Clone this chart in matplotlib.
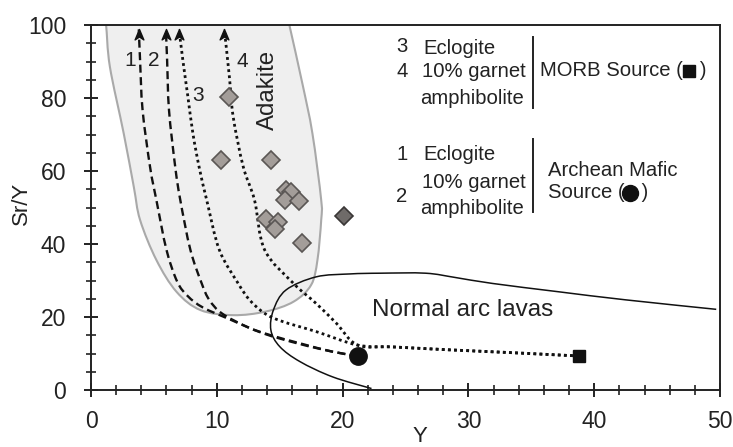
import matplotlib
matplotlib.use("Agg")
import matplotlib.pyplot as plt
import numpy as np
from matplotlib.path import Path
from matplotlib.patches import PathPatch
from matplotlib.lines import Line2D
from matplotlib.ticker import MultipleLocator

plt.rcParams['font.family'] = ['Liberation Sans', 'DejaVu Sans']

# ---------------- data ----------------
# Adakite field outline (Y, Sr/Y)
field_x = [1.0, 1.2, 1.5, 2.6, 3.4, 3.9, 5.2, 6.8, 8.7, 11.3, 13.9, 16.1, 17.5, 18.0, 18.3, 18.3, 17.6, 16.8, 15.8, 15.5]
field_y = [104, 100, 88.6, 70.3, 55.7, 46.6, 35.6, 26.9, 21.9, 20.5, 21.5, 24.2, 28.8, 35.6, 46.6, 52.0, 70.3, 84.0, 99.5, 104]

# Normal arc lavas boundary
arc_x = [22.3, 19.2, 16.6, 15.0, 14.3, 14.5, 15.5, 17.9, 20.6, 23.0, 26.6, 29.0, 31.9, 37.2, 42.5, 49.7]
arc_y = [0.4, 3.6, 7.8, 11.9, 16.4, 21.9, 27.4, 31.0, 31.8, 32.0, 32.0, 30.8, 29.2, 26.9, 24.7, 22.1]

# Sample data (diamonds)
samples_y = [11.0, 10.3, 14.3, 15.5, 15.9, 15.4, 16.5, 13.9, 14.9, 14.6, 16.8]
samples_sry = [80.2, 63.0, 63.0, 54.8, 54.3, 52.1, 51.9, 46.8, 46.1, 44.0, 40.2]
dark_y = [20.1]
dark_sry = [47.7]

# Sources
archean_src = (21.2, 9.3)
morb_src = (38.8, 9.3)

# Melting curves
c1_x = [21.2, 19.2, 16.6, 13.7, 11.0, 8.9, 7.7, 6.85, 6.0, 5.2, 4.7, 4.1, 3.9, 3.8]
c1_y = [9.3, 10.5, 12.6, 15.5, 19.4, 22.6, 25.7, 29.7, 38.4, 52.0, 61.0, 76.7, 90.4, 98.8]
c2_x = [21.2, 19.2, 16.6, 14.2, 12.4, 10.4, 9.4, 8.8, 7.9, 7.1, 6.7, 6.2, 6.05, 5.95]
c2_y = [9.3, 10.5, 12.8, 15.1, 17.3, 21.0, 24.7, 29.2, 38.4, 52.0, 61.0, 76.7, 90.4, 98.8]
c3_x = [38.3, 33.0, 28.5, 24.0, 21.2, 17.9, 15.2, 13.8, 12.6, 11.7, 10.2, 9.2, 8.6, 8.1, 7.7, 7.3, 7.0]
c3_y = [9.4, 10.3, 11.0, 11.8, 12.3, 16.0, 18.8, 21.0, 24.7, 29.2, 38.4, 52.0, 61.0, 70.3, 80.4, 90.4, 98.8]
c4_x = [38.3, 33.0, 28.5, 24.0, 21.2, 19.5, 17.9, 16.1, 13.8, 13.0, 12.1, 11.3, 11.0, 10.6]
c4_y = [9.4, 10.3, 11.0, 11.8, 12.3, 18.3, 23.7, 29.2, 38.4, 52.0, 61.2, 74.9, 85.8, 98.8]

curve_labels = ['1', '2', '3', '4']
label_pos_x = [3.1, 5.0, 8.5, 12.0]
label_pos_y = [90.4, 90.4, 80.8, 90.0]


def smooth_path(xs, ys, closed=False):
    """Catmull-Rom through the given points, drawn as cubic Bezier segments."""
    P = np.column_stack([xs, ys]).astype(float)
    n = len(P)
    verts = [P[0]]
    codes = [Path.MOVETO]
    segs = n if closed else n - 1
    for i in range(segs):
        p0 = P[(i - 1) % n] if (closed or i > 0) else P[i]
        p1 = P[i % n]
        p2 = P[(i + 1) % n]
        p3 = P[(i + 2) % n] if (closed or i + 2 < n) else P[(i + 1) % n]
        c1 = p1 + (p2 - p0) / 6.0
        c2 = p2 - (p3 - p1) / 6.0
        verts += [c1, c2, p2]
        codes += [Path.CURVE4] * 3
    if closed:
        verts.append(P[0])
        codes.append(Path.CLOSEPOLY)
    return Path(np.array(verts), codes)


# ---------------- figure ----------------
W, H = 733, 447
fig = plt.figure(figsize=(W / 100, H / 100), dpi=100)
ax = fig.add_axes([91 / W, 1 - 390 / H, (720 - 91) / W, (390 - 25) / H])

ax.add_patch(PathPatch(smooth_path(field_x, field_y, closed=True), facecolor='#efefef',
                       edgecolor='#a9a9a9', lw=1.5, zorder=1))
ax.add_patch(PathPatch(smooth_path(arc_x, arc_y), fill=False, edgecolor='#111111', lw=1.1, zorder=2))

dashed = (0, (3.4, 1.9))
dotted = (0, (1.0, 1.2))
for cx, cy, ds, lw in [(c1_x, c1_y, dashed, 1.7), (c2_x, c2_y, dashed, 1.7),
                       (c3_x, c3_y, dotted, 2.0), (c4_x, c4_y, dotted, 2.0)]:
    ax.add_patch(PathPatch(smooth_path(cx, cy), fill=False, edgecolor='#111111', lw=lw,
                           linestyle=ds, zorder=3))

arrow_marker = Path([(0, 0), (0.42, -1.0), (0, -0.72), (-0.42, -1.0), (0, 0)],
                    [Path.MOVETO, Path.LINETO, Path.LINETO, Path.LINETO, Path.CLOSEPOLY])
tips_x = [c1_x[-1], c2_x[-1], c3_x[-1], c4_x[-1]]
tips_y = [c1_y[-1], c2_y[-1], c3_y[-1], c4_y[-1]]
ax.plot(tips_x, tips_y, ls='none', marker=arrow_marker, ms=15, color='#111111', zorder=4, clip_on=False)

for t, lx, ly in zip(curve_labels, label_pos_x, label_pos_y):
    ax.text(lx, ly, t, fontsize=15, ha='center', va='center', color='#222222', zorder=5)

ax.plot(samples_y, samples_sry, ls='none', marker='D', ms=9.2, mfc='#a39d99', mec='#5a5654', mew=1.2, zorder=5)
ax.plot(dark_y, dark_sry, ls='none', marker='D', ms=9.2, mfc='#6f6b69', mec='#3a3736', mew=1.2, zorder=5)

ax.plot([archean_src[0]], [archean_src[1]], ls='none', marker='o', ms=12.5, color='#111111', zorder=6)
ax.plot([morb_src[0]], [morb_src[1]], ls='none', marker='s', ms=8.6, color='#111111', zorder=6)

ax.text(14.07, 82.2, 'Adakite', rotation=90, fontsize=17.3, ha='center', va='center', color='#222222', zorder=5)
ax.text(22.3, 22.0, 'Normal arc lavas', fontsize=17.5, ha='left', va='center', color='#222222', zorder=5)

ax.set_xlim(0, 50)
ax.set_ylim(0, 100)
ax.xaxis.set_major_locator(MultipleLocator(10))
ax.xaxis.set_minor_locator(MultipleLocator(2))
ax.yaxis.set_major_locator(MultipleLocator(20))
ax.yaxis.set_minor_locator(MultipleLocator(5))
ax.tick_params(which='both', direction='inout', top=False, right=False, colors='#222222', labelsize=16.5)
ax.tick_params(which='major', length=9.5, width=1.4)
ax.tick_params(which='minor', length=7.5, width=1.2)
ax.tick_params(axis='x', which='major', pad=10)
ax.tick_params(axis='y', which='major', pad=13)
for sp in ax.spines.values():
    sp.set_linewidth(1.4)
    sp.set_color('#222222')

# axis labels
fig.text(21 / W, 1 - 203 / H, 'Sr/Y', rotation=90, fontsize=16, ha='center', va='center', color='#222222')
fig.text(420 / W, 1 - 436 / H, 'Y', fontsize=16, ha='center', va='center', color='#222222')


# legend block
def ft(px, py, s, **kw):
    fig.text(px / W, 1 - py / H, s, fontsize=14.6, va='center', color='#222222', **kw)


ft(401.7, 46.7, '3', ha='center')
ft(423.0, 48.3, 'Eclogite')
ft(401.7, 71.7, '4', ha='center')
ft(421.7, 71.7, '10% garnet')
ft(420.0, 98.3, 'amphibolite')
ft(540.0, 70.7, 'MORB Source (   )')
ft(401.7, 155.0, '1', ha='center')
ft(423.0, 155.0, 'Eclogite')
ft(401.7, 196.7, '2', ha='center')
ft(421.7, 182.7, '10% garnet')
ft(420.0, 208.3, 'amphibolite')
ft(548.3, 170.0, 'Archean Mafic')
ft(548.3, 192.7, 'Source (   )')

# legend symbols drawn as markers inside the parentheses
fig.add_artist(Line2D([689 / W], [1 - 70.5 / H], ls='none', marker='s', ms=9.0, color='#111111'))
fig.add_artist(Line2D([629.5 / W], [1 - 192.5 / H], ls='none', marker='o', ms=11.5, color='#111111'))

for y0, y1 in [(36.7, 108.3), (139.3, 211.7)]:
    fig.add_artist(Line2D([533.3 / W, 533.3 / W], [1 - y0 / H, 1 - y1 / H], color='#222222', lw=1.4))

fig.savefig('out.png', dpi=100, facecolor='white')
